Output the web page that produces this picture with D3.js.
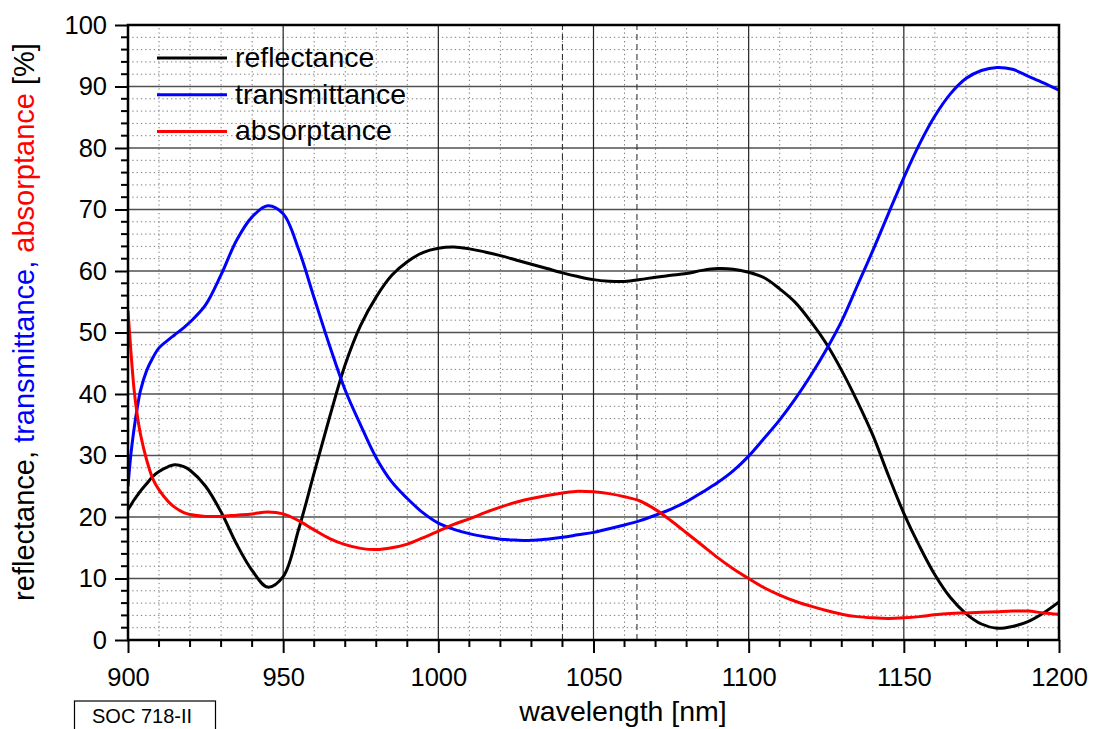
<!DOCTYPE html>
<html>
<head>
<meta charset="utf-8">
<script src="https://cdn.jsdelivr.net/npm/d3@7"></script>
<style>
  body { margin: 0; background: #fff; }
  text { font-family: "Liberation Sans", Arial, sans-serif; }
</style>
</head>
<body>
<div id="chart"></div>
<script>
// values
const wavelength = [900, 901, 902, 903, 904, 906, 908, 910, 913, 915, 918, 920,
  925, 930, 935, 940, 945, 950, 955, 960, 965, 970, 975, 980, 985, 990, 995,
  1000, 1005, 1010, 1015, 1020, 1025, 1030, 1035, 1040, 1045, 1050, 1055, 1060,
  1065, 1070, 1075, 1080, 1085, 1090, 1095, 1100, 1105, 1110, 1115, 1120, 1125,
  1130, 1135, 1140, 1145, 1150, 1155, 1160, 1165, 1170, 1175, 1180, 1185, 1190,
  1195, 1200];
const reflectance = [21.2, 22.0, 22.8, 23.5, 24.2, 25.4, 26.6, 27.4, 28.2, 28.5, 28.2, 27.6,
  25.0, 20.8, 15.6, 11.3, 8.6, 10.3, 18.0, 27.2, 36.3, 44.8, 51.2, 55.8, 59.3, 61.5, 63.0,
  63.7, 63.9, 63.6, 63.1, 62.5, 61.8, 61.1, 60.4, 59.7, 59.1, 58.6, 58.35, 58.3,
  58.6, 59.0, 59.3, 59.6, 60.1, 60.4, 60.3, 59.8, 58.9, 57.1, 54.9, 51.8, 48.2,
  43.8, 38.8, 33.3, 26.8, 20.6, 15.3, 10.6, 6.9, 4.3, 2.6, 1.9, 2.2, 3.0,
  4.4, 6.2];
const transmittance = [25.0, 30.5, 34.5, 37.8, 40.5, 43.8, 45.9, 47.5, 48.8, 49.6, 50.8, 51.7,
  54.5, 59.4, 65.0, 68.8, 70.6, 69.3, 63.5, 55.6, 47.8, 40.6, 34.9, 29.6, 25.7, 23.0, 20.7,
  19.0, 18.0, 17.3, 16.8, 16.4, 16.25, 16.2, 16.4, 16.7, 17.1, 17.5, 18.1, 18.7,
  19.4, 20.3, 21.3, 22.5, 24.0, 25.6, 27.5, 29.9, 32.8, 35.8, 39.2, 43.0, 47.2,
  51.9, 57.6, 63.3, 69.3, 75.2, 80.6, 85.2, 88.8, 91.3, 92.6, 93.1, 92.8, 91.7,
  90.6, 89.4];
const absorptance = [53.5, 46.5, 40.5, 36.5, 33.5, 29.3, 26.2, 24.4, 22.5, 21.6, 20.7, 20.4,
  20.1, 20.1, 20.3, 20.5, 20.8, 20.5, 19.4, 17.9, 16.5, 15.5, 14.9, 14.7, 15.0, 15.6, 16.6,
  17.7, 18.8, 19.7, 20.7, 21.6, 22.4, 23.0, 23.5, 23.9, 24.2, 24.1, 23.8, 23.3,
  22.6, 21.2, 19.4, 17.4, 15.4, 13.4, 11.6, 10.0, 8.5, 7.3, 6.3, 5.5, 4.8,
  4.2, 3.8, 3.6, 3.5, 3.6, 3.8, 4.1, 4.3, 4.4, 4.5, 4.6, 4.7, 4.7,
  4.4, 4.2]; 

const seriesNames = ["reflectance", "transmittance", "absorptance"];
const seriesColors = ["#000000", "#0000ff", "#ff0000"];
const xTicks = [900, 950, 1000, 1050, 1100, 1150, 1200];
const yTicks = [0, 10, 20, 30, 40, 50, 60, 70, 80, 90, 100];
const laserLines = [1040, 1064];
const sampleLabel = "SOC 718-II";

const width = 1095;
const height = 729;
const margin = {top: 25, right: 36, bottom: 89, left: 128};

const svg = d3.select("#chart")
    .append("svg")
    .attr("width", width)
    .attr("height", height);

const x = d3.scaleLinear().domain([900, 1200]).range([margin.left, width - margin.right]);
const y = d3.scaleLinear().domain([0, 100]).range([height - margin.bottom, margin.top]);

// minor grid, dotted
const minorX = d3.range(900, 1201, 10).filter(d => d % 50 != 0);
const minorY = d3.range(0, 101, 2).filter(d => d % 10 != 0);

const grid_g = svg.append("g");
grid_g.selectAll(".minx").data(minorX).join("line")
    .attr("x1", d => x(d)).attr("x2", d => x(d))
    .attr("y1", y(0)).attr("y2", y(100))
    .attr("stroke", "#777").attr("stroke-width", 1)
    .attr("stroke-dasharray", "1.3,3");
grid_g.selectAll(".miny").data(minorY).join("line")
    .attr("x1", x(900)).attr("x2", x(1200))
    .attr("y1", d => y(d)).attr("y2", d => y(d))
    .attr("stroke", "#777").attr("stroke-width", 1)
    .attr("stroke-dasharray", "1.3,3");

// major grid, solid
grid_g.append("g").selectAll("line").data(yTicks.slice(1, -1)).join("line")
    .attr("x1", x(900)).attr("x2", x(1200))
    .attr("y1", d => y(d)).attr("y2", d => y(d))
    .attr("stroke", "#505050").attr("stroke-width", 1.4);
grid_g.append("g").selectAll("line").data(xTicks.slice(1, -1)).join("line")
    .attr("x1", d => x(d)).attr("x2", d => x(d))
    .attr("y1", y(0)).attr("y2", y(100))
    .attr("stroke", "#222").attr("stroke-width", 1.2);

// laser wavelengths
grid_g.append("g").selectAll("line").data(laserLines).join("line")
    .attr("x1", d => x(d)).attr("x2", d => x(d))
    .attr("y1", y(0)).attr("y2", y(100))
    .attr("stroke", "#333").attr("stroke-width", 1.1)
    .attr("stroke-dasharray", "6,4");

// curves
svg.append("clipPath").attr("id", "plot_clip")
    .append("rect")
    .attr("x", x(900)).attr("y", y(100))
    .attr("width", x(1200) - x(900)).attr("height", y(0) - y(100));

const allSeries = [reflectance, transmittance, absorptance];
const line = d3.line()
    .x((d, i) => x(wavelength[i]))
    .y(d => y(d))
    .curve(d3.curveCatmullRom.alpha(0.5));

svg.append("g").attr("clip-path", "url(#plot_clip)")
    .selectAll("path").data(allSeries).join("path")
    .attr("d", d => line(d))
    .attr("fill", "none")
    .attr("stroke", (d, i) => seriesColors[i])
    .attr("stroke-width", 3)
    .attr("stroke-linejoin", "round");

// frame
svg.append("rect")
    .attr("x", x(900)).attr("y", y(100))
    .attr("width", x(1200) - x(900)).attr("height", y(0) - y(100))
    .attr("fill", "none").attr("stroke", "#000").attr("stroke-width", 2.5);

// axes
const xAxis = svg.append("g")
    .attr("transform", `translate(0, ${y(0)})`)
    .call(d3.axisBottom(x).tickValues(xTicks).tickSize(13).tickPadding(15).tickFormat(d3.format("d")));
xAxis.append("g").selectAll("line").data(minorX).join("line")
    .attr("x1", d => x(d)).attr("x2", d => x(d))
    .attr("y1", 0).attr("y2", 7)
    .attr("stroke", "#000").attr("stroke-width", 2);

const yAxis = svg.append("g")
    .attr("transform", `translate(${x(900)}, 0)`)
    .call(d3.axisLeft(y).tickValues(yTicks).tickSize(13).tickPadding(8));
yAxis.append("g").selectAll("line").data(minorY).join("line")
    .attr("x1", -7).attr("x2", 0)
    .attr("y1", d => y(d)).attr("y2", d => y(d))
    .attr("stroke", "#000").attr("stroke-width", 2);

[xAxis, yAxis].forEach(g => {
    g.select(".domain").remove();
    g.selectAll(".tick line").attr("stroke", "#000").attr("stroke-width", 2);
    g.selectAll(".tick text")
        .attr("font-family", "Liberation Sans, Arial, sans-serif")
        .attr("font-size", 25.5)
        .attr("fill", "#000");
});

// axis titles
svg.append("text")
    .attr("x", 623).attr("y", 721)
    .attr("text-anchor", "middle")
    .attr("font-size", 28.5)
    .text("wavelength [nm]");

const yTitle = svg.append("text")
    .attr("transform", "translate(34, 322) rotate(-90)")
    .attr("text-anchor", "middle")
    .attr("font-size", 29);
yTitle.append("tspan").attr("fill", "#000").text("reflectance, ");
yTitle.append("tspan").attr("fill", "#0000ff").text("transmittance, ");
yTitle.append("tspan").attr("fill", "#ff0000").text("absorptance ");
yTitle.append("tspan").attr("fill", "#000").text("[%]");

// legend
const legend = svg.append("g");
seriesNames.forEach((name, i) => {
    const ly = 58 + i * 36.7;
    legend.append("line")
        .attr("x1", 157).attr("x2", 227)
        .attr("y1", ly).attr("y2", ly)
        .attr("stroke", seriesColors[i]).attr("stroke-width", 3);
    legend.append("text")
        .attr("x", 235).attr("y", ly + 9)
        .attr("font-size", 28.5)
        .text(name);
});

// sample label box (cut by the bottom edge, as in the original)
svg.append("rect")
    .attr("x", 74.5).attr("y", 701)
    .attr("width", 141).attr("height", 40)
    .attr("fill", "#fff").attr("stroke", "#000").attr("stroke-width", 1.2);
svg.append("text")
    .attr("x", 92).attr("y", 723)
    .attr("font-size", 20)
    .text(sampleLabel);
</script>
</body>
</html>
